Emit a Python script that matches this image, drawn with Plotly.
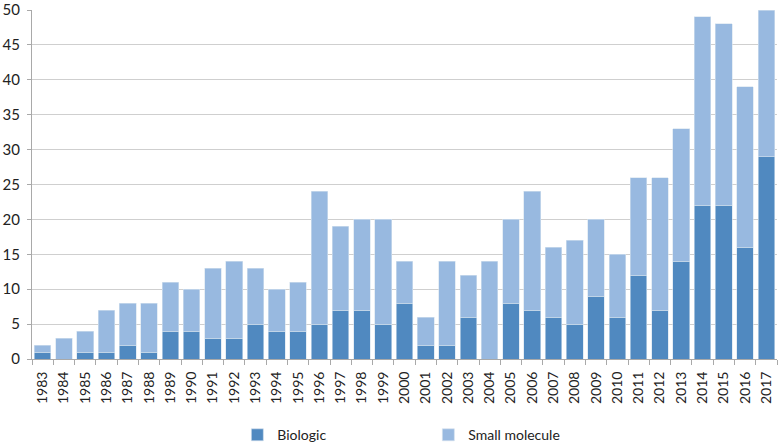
"""Stacked bars: biologic vs small molecule approvals by year"""

import plotly.graph_objects as go

years = [str(y) for y in range(1983, 2018)]
totals = [2, 3, 4, 7, 8, 8, 11, 10, 13, 14, 13, 10, 11, 24, 19, 20, 20, 14, 6, 14,
          12, 14, 20, 24, 16, 17, 20, 15, 26, 26, 33, 49, 48, 39, 50]
biologic = [1, 0, 1, 1, 2, 1, 4, 4, 3, 3, 5, 4, 4, 5, 7, 7, 5, 8, 2, 2,
            6, 0, 8, 7, 6, 5, 9, 6, 12, 7, 14, 22, 22, 16, 29]
small_molecule = [t - b for t, b in zip(totals, biologic)]

font = "Lato, Open Sans, sans-serif"

fig = go.Figure()
fig.add_trace(go.Bar(
    x=years, y=biologic, name="Biologic",
    marker=dict(color="#5089c0", line=dict(color="#d6e2ef", width=0.6)),
))
fig.add_trace(go.Bar(
    x=years, y=small_molecule, name="Small molecule",
    marker=dict(color="#98b9e0", line=dict(color="#d6e2ef", width=0.6)),
))

fig.update_layout(
    barmode="stack",
    bargap=0.22,
    width=778, height=445,
    margin=dict(l=32, r=1, t=10, b=86),
    plot_bgcolor="white",
    paper_bgcolor="white",
    font=dict(family=font, size=15, color="#222"),
    showlegend=True,
    legend=dict(
        orientation="h", x=0.532, xanchor="center",
        yref="container", y=0.022, yanchor="middle",
        entrywidth=146, font=dict(size=14), traceorder="normal",
    ),
    xaxis=dict(
        type="category", tickangle=-90, tickson="boundaries",
        ticks="outside", ticklen=5, tickcolor="#a9a9a9",
        showline=True, linecolor="#a9a9a9", linewidth=1,
        tickfont=dict(size=14), showgrid=False,
        automargin=False, ticklabelstandoff=6,
    ),
    yaxis=dict(
        range=[0, 50], dtick=5, showgrid=True, gridcolor="#cfcfcf", gridwidth=1,
        showline=True, linecolor="#a9a9a9", ticks="outside", ticklen=4,
        tickcolor="#a9a9a9", zeroline=False, tickfont=dict(size=15),
        automargin=False, ticklabeloverflow="allow", ticklabelstandoff=4,
    ),
)

fig.write_html("out.html", config={"displayModeBar": False},
               post_script="document.body.style.margin='0';")
